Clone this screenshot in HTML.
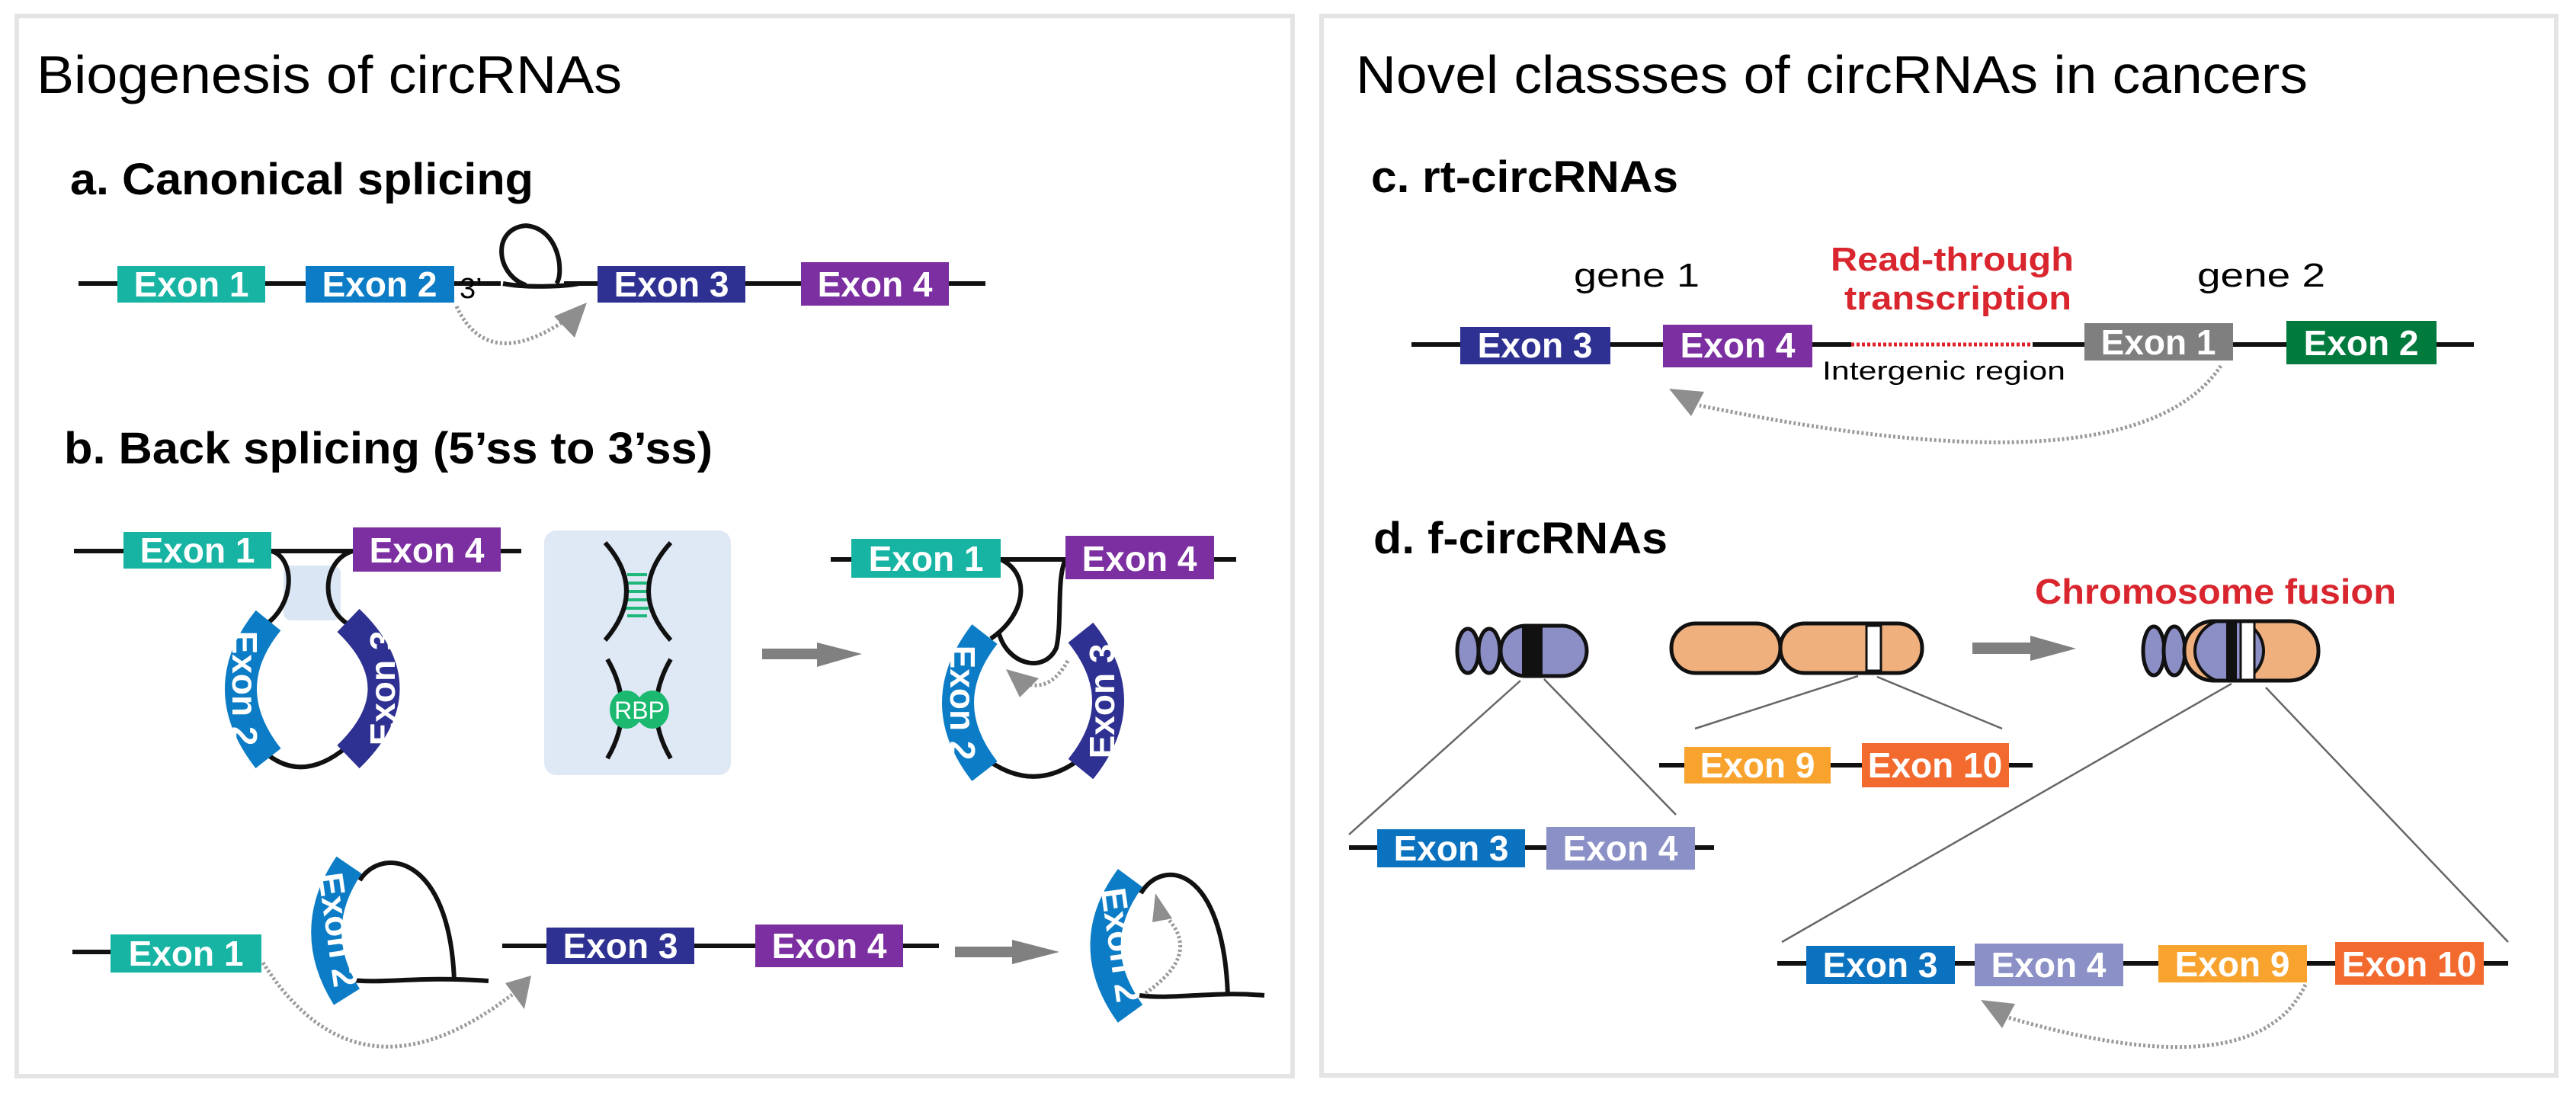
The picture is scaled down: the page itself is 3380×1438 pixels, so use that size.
<!DOCTYPE html>
<html><head><meta charset="utf-8"><style>
html,body{margin:0;padding:0;background:#fff;}
svg{display:block;}
text{font-family:"Liberation Sans",Arial,sans-serif;}
.ex{fill:#fff;font-weight:bold;font-size:46px;text-anchor:middle;}
.ln{stroke:#111;stroke-width:6;fill:none;}
.dot{stroke:#9a9a9a;stroke-width:5;fill:none;stroke-dasharray:3 3;}
.ah{fill:#8e8e8e;}
.ch{stroke:#111;stroke-width:5;}
</style></head><body>
<svg width="3380" height="1438" viewBox="0 0 3380 1438" xmlns="http://www.w3.org/2000/svg">
<rect width="3380" height="1438" fill="#fff"/>
<rect x="22" y="21" width="1674" height="1391" fill="none" stroke="#e4e4e4" stroke-width="6"/>
<rect x="1734" y="21" width="1620" height="1390" fill="none" stroke="#e4e4e4" stroke-width="6"/>

<!-- Titles -->
<text x="48" y="122" font-size="70" textLength="768" lengthAdjust="spacingAndGlyphs">Biogenesis of circRNAs</text>
<text x="92" y="255" font-size="58" font-weight="bold" textLength="608" lengthAdjust="spacingAndGlyphs">a. Canonical splicing</text>
<text x="84" y="608" font-size="58" font-weight="bold" textLength="851" lengthAdjust="spacingAndGlyphs">b. Back splicing (5’ss to 3’ss)</text>
<text x="1779" y="122" font-size="70" textLength="1249" lengthAdjust="spacingAndGlyphs">Novel classses of circRNAs in cancers</text>
<text x="1799" y="252" font-size="58" font-weight="bold" textLength="403" lengthAdjust="spacingAndGlyphs">c. rt-circRNAs</text>
<text x="1802" y="726" font-size="58" font-weight="bold" textLength="386" lengthAdjust="spacingAndGlyphs">d. f-circRNAs</text>

<!-- a. Canonical -->
<line x1="103" y1="372" x2="657" y2="372" class="ln"/>
<line x1="740" y1="372" x2="1293" y2="372" class="ln"/>
<path d="M660,372 C690,378 740,376 760,372" class="ln"/>
<path d="M690,374 C650,360 645,300 690,296 C735,300 740,360 730,372" class="ln"/>
<rect x="154" y="349" width="194" height="48" fill="#17b3a3"/><text x="251" y="389" class="ex">Exon 1</text>
<rect x="401" y="349" width="195" height="48" fill="#0b7cc5"/><text x="498" y="389" class="ex">Exon 2</text>
<text x="603" y="391" font-size="38">3’</text>
<rect x="784" y="349" width="194" height="48" fill="#2e3192"/><text x="881" y="389" class="ex">Exon 3</text>
<rect x="1051" y="344" width="194" height="57" fill="#7b2fa0"/><text x="1148" y="389" class="ex">Exon 4</text>
<path d="M599,402 Q640,490 745,418" class="dot"/>
<polygon points="727,415 770,397 754,443" class="ah"/>

<!-- b upper-left -->
<rect x="372" y="742" width="75" height="72" rx="10" fill="#dbe6f4"/>
<line x1="97" y1="723" x2="684" y2="723" class="ln"/>
<path d="M356,723 C388,732 388,795 345,822" class="ln" stroke-width="5"/>
<path d="M463,723 C422,735 418,800 462,822" class="ln" stroke-width="5"/>
<path d="M345,985 Q395,1030 455,980" class="ln"/>
<rect x="162" y="698" width="194" height="48" fill="#17b3a3"/><text x="259" y="738" class="ex">Exon 1</text>
<rect x="463" y="692" width="194" height="58" fill="#7b2fa0"/><text x="560" y="738" class="ex">Exon 4</text>
<path d="M352,814 Q280,903 352,995" stroke="#0b7cc5" stroke-width="42" fill="none"/>
<text x="0" y="0" class="ex" font-size="42" transform="translate(305,903) rotate(90)">Exon 2</text>
<path d="M457,814 Q550,903 457,993" stroke="#2e3192" stroke-width="42" fill="none"/>
<text x="0" y="0" class="ex" font-size="42" transform="translate(518,903) rotate(-90)">Exon 3</text>

<!-- blue box -->
<rect x="714" y="696" width="245" height="321" rx="16" fill="#dfe8f5"/>
<g stroke="#1fb77a" stroke-width="4">
<line x1="823" y1="754" x2="849" y2="754"/><line x1="821" y1="765" x2="851" y2="765"/>
<line x1="820" y1="776" x2="852" y2="776"/><line x1="820" y1="787" x2="852" y2="787"/>
<line x1="821" y1="798" x2="851" y2="798"/><line x1="823" y1="808" x2="849" y2="808"/>
</g>
<path d="M794,712 Q850,775 794,840" class="ln" stroke-width="5"/>
<path d="M880,712 Q822,775 880,840" class="ln" stroke-width="5"/>
<path d="M797,865 Q835,930 797,995" class="ln" stroke-width="5"/>
<path d="M880,865 Q842,930 880,995" class="ln" stroke-width="5"/>
<ellipse cx="822" cy="931" rx="22" ry="25" fill="#1bb86f"/>
<ellipse cx="856" cy="931" rx="22" ry="25" fill="#1bb86f"/>
<text x="839" y="943" font-size="32" fill="#fff" text-anchor="middle">RBP</text>

<!-- gray arrow 1 -->
<rect x="1000" y="851" width="75" height="14" fill="#808080"/>
<polygon points="1072,843 1131,858 1072,875" fill="#808080"/>

<!-- b upper-right -->
<line x1="1090" y1="734" x2="1622" y2="734" class="ln"/>
<path d="M1313,734 C1352,752 1348,805 1300,838" class="ln" stroke-width="5"/>
<path d="M1310,828 C1320,872 1370,885 1386,850 C1394,815 1386,760 1398,734" class="ln" stroke-width="5"/>
<path d="M1300,1000 Q1360,1040 1418,995" class="ln"/>
<rect x="1117" y="707" width="196" height="51" fill="#17b3a3"/><text x="1215" y="749" class="ex">Exon 1</text>
<rect x="1398" y="703" width="195" height="57" fill="#7b2fa0"/><text x="1495" y="749" class="ex">Exon 4</text>
<path d="M1292,832 Q1222,922 1292,1012" stroke="#0b7cc5" stroke-width="42" fill="none"/>
<text x="0" y="0" class="ex" font-size="42" transform="translate(1247,922) rotate(90)">Exon 2</text>
<path d="M1418,830 Q1490,920 1418,1009" stroke="#2e3192" stroke-width="42" fill="none"/>
<text x="0" y="0" class="ex" font-size="42" transform="translate(1462,920) rotate(-90)">Exon 3</text>
<path d="M1401,867 Q1380,905 1350,898" class="dot"/>
<polygon points="1320,878 1363,890 1338,915" class="ah"/>

<!-- b lower-left -->
<line x1="95" y1="1249" x2="145" y2="1249" class="ln"/>
<path d="M472,1155 C500,1110 590,1120 596,1287" class="ln" stroke-width="5"/>
<path d="M455,1285 C500,1292 545,1280 641,1287" class="ln"/>
<path d="M458,1135 Q400,1220 455,1308" stroke="#0b7cc5" stroke-width="40" fill="none"/>
<text x="0" y="0" class="ex" font-size="40" transform="translate(428,1222) rotate(82)">Exon 2</text>
<rect x="145" y="1226" width="198" height="50" fill="#17b3a3"/><text x="244" y="1267" class="ex">Exon 1</text>
<line x1="659" y1="1241" x2="1232" y2="1241" class="ln"/>
<rect x="717" y="1217" width="194" height="48" fill="#2e3192"/><text x="814" y="1257" class="ex">Exon 3</text>
<rect x="991" y="1213" width="194" height="56" fill="#7b2fa0"/><text x="1088" y="1257" class="ex">Exon 4</text>
<path d="M345,1263 Q470,1460 672,1305" class="dot"/>
<polygon points="663,1290 697,1280 688,1324" class="ah"/>
<rect x="1253" y="1242" width="78" height="14" fill="#808080"/>
<polygon points="1328,1233 1390,1249 1328,1265" fill="#808080"/>

<!-- b lower-right -->
<path d="M1497,1172 C1525,1125 1605,1135 1611,1306" class="ln" stroke-width="5"/>
<path d="M1495,1306 C1540,1312 1590,1300 1659,1306" class="ln"/>
<path d="M1483,1152 Q1418,1240 1483,1330" stroke="#0b7cc5" stroke-width="40" fill="none"/>
<text x="0" y="0" class="ex" font-size="40" transform="translate(1455,1242) rotate(82)">Exon 2</text>
<path d="M1503,1303 Q1580,1250 1527,1200" class="dot"/>
<polygon points="1516,1172 1538,1205 1512,1210" class="ah"/>

<!-- c. rt-circRNAs -->
<text x="2065" y="376" font-size="44" textLength="165" lengthAdjust="spacingAndGlyphs">gene 1</text>
<text x="2883" y="376" font-size="44" textLength="168" lengthAdjust="spacingAndGlyphs">gene 2</text>
<text x="2402" y="355" font-size="44" font-weight="bold" fill="#d9262e" textLength="319" lengthAdjust="spacingAndGlyphs">Read-through</text>
<text x="2420" y="406" font-size="44" font-weight="bold" fill="#d9262e" textLength="298" lengthAdjust="spacingAndGlyphs">transcription</text>
<line x1="1852" y1="452" x2="2429" y2="452" class="ln"/>
<line x1="2667" y1="452" x2="3246" y2="452" class="ln"/>
<line x1="2429" y1="452" x2="2667" y2="452" stroke="#e0212b" stroke-width="5" stroke-dasharray="4 3"/>
<rect x="1916" y="429" width="197" height="49" fill="#2e3192"/><text x="2014" y="469" class="ex">Exon 3</text>
<rect x="2182" y="426" width="196" height="56" fill="#7b2fa0"/><text x="2280" y="469" class="ex">Exon 4</text>
<rect x="2735" y="424" width="195" height="49" fill="#7f7f80"/><text x="2832" y="465" class="ex">Exon 1</text>
<rect x="3000" y="421" width="197" height="57" fill="#007a3d"/><text x="3098" y="466" class="ex">Exon 2</text>
<text x="2391" y="498" font-size="34" textLength="319" lengthAdjust="spacingAndGlyphs">Intergenic region</text>
<path d="M2914,480 Q2800,650 2230,532" class="dot"/>
<polygon points="2190,510 2236,514 2219,546" class="ah"/>

<!-- d. f-circRNAs -->
<text x="2670" y="792" font-size="46" font-weight="bold" fill="#d9262e" textLength="474" lengthAdjust="spacingAndGlyphs">Chromosome fusion</text>
<!-- chr1 -->
<ellipse cx="1926" cy="854" rx="14" ry="29" fill="#8b8fc6" class="ch"/>
<ellipse cx="1954" cy="854" rx="14" ry="29" fill="#8b8fc6" class="ch"/>
<rect x="1969" y="821" width="113" height="66" rx="33" fill="#8b8fc6" class="ch"/>
<rect x="1997" y="822" width="27" height="64" fill="#111"/>
<!-- chr2 -->
<rect x="2193" y="818" width="143" height="65" rx="32" fill="#f0b07e" class="ch"/>
<rect x="2336" y="818" width="186" height="65" rx="32" fill="#f0b07e" class="ch"/>
<rect x="2449" y="821" width="19" height="59" fill="#fff" stroke="#111" stroke-width="3"/>
<!-- arrow -->
<rect x="2588" y="843" width="80" height="15" fill="#808080"/>
<polygon points="2664,834 2724,851 2664,867" fill="#808080"/>
<!-- fused -->
<defs><clipPath id="fc"><rect x="2866" y="815" width="176" height="78" rx="38"/></clipPath></defs>
<ellipse cx="2826" cy="854" rx="14" ry="32" fill="#8b8fc6" class="ch"/>
<ellipse cx="2853" cy="854" rx="14" ry="32" fill="#8b8fc6" class="ch"/>
<rect x="2866" y="815" width="176" height="78" rx="38" fill="#f0b07e"/>
<g clip-path="url(#fc)"><ellipse cx="2925" cy="854" rx="45" ry="42" fill="#8b8fc6" stroke="#111" stroke-width="4"/>
<rect x="2921" y="815" width="14" height="78" fill="#111"/>
<rect x="2940" y="815" width="18" height="78" fill="#fff" stroke="#111" stroke-width="3"/></g>
<rect x="2866" y="815" width="176" height="78" rx="38" fill="none" class="ch"/>
<!-- zoom lines -->
<g stroke="#666" stroke-width="2.5">
<line x1="1995" y1="893" x2="1770" y2="1095"/><line x1="2026" y1="891" x2="2199" y2="1069"/>
<line x1="2438" y1="887" x2="2224" y2="956"/><line x1="2463" y1="888" x2="2627" y2="956"/>
<line x1="2928" y1="897" x2="2338" y2="1236"/><line x1="2973" y1="902" x2="3291" y2="1236"/>
</g>
<!-- rows -->
<line x1="1770" y1="1112" x2="2249" y2="1112" class="ln"/>
<rect x="1807" y="1088" width="194" height="50" fill="#0b72c0"/><text x="1904" y="1129" class="ex">Exon 3</text>
<rect x="2029" y="1085" width="195" height="56" fill="#8b90c7"/><text x="2126" y="1129" class="ex">Exon 4</text>
<line x1="2177" y1="1004" x2="2667" y2="1004" class="ln"/>
<rect x="2210" y="980" width="192" height="48" fill="#f8a32e"/><text x="2306" y="1020" class="ex">Exon 9</text>
<rect x="2443" y="975" width="193" height="58" fill="#f26a2e"/><text x="2539" y="1020" class="ex">Exon 10</text>
<line x1="2332" y1="1264" x2="3291" y2="1264" class="ln"/>
<rect x="2370" y="1241" width="195" height="50" fill="#0b72c0"/><text x="2467" y="1282" class="ex">Exon 3</text>
<rect x="2591" y="1238" width="195" height="56" fill="#8b90c7"/><text x="2688" y="1282" class="ex">Exon 4</text>
<rect x="2832" y="1240" width="195" height="49" fill="#f8a32e"/><text x="2929" y="1281" class="ex">Exon 9</text>
<rect x="3064" y="1236" width="195" height="56" fill="#f26a2e"/><text x="3161" y="1281" class="ex">Exon 10</text>
<path d="M3025,1292 Q2960,1430 2635,1335" class="dot"/>
<polygon points="2599,1312 2644,1317 2627,1349" class="ah"/>
</svg>
</body></html>
